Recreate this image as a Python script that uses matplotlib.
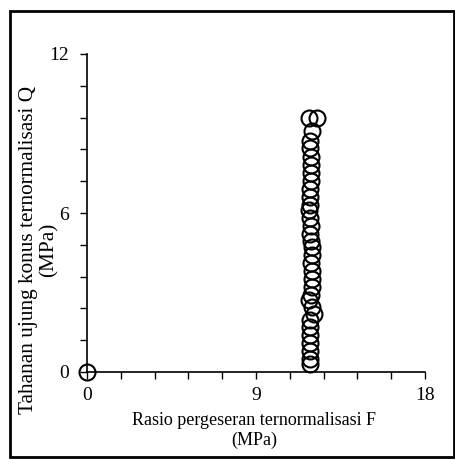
import matplotlib
matplotlib.use("Agg")
import matplotlib.pyplot as plt
from matplotlib.ticker import MultipleLocator, FixedLocator
from matplotlib.patches import Rectangle

plt.rcParams['font.family'] = ['Liberation Serif', 'DejaVu Serif']

F = [0.0, 11.8, 12.25, 12.0, 11.9, 11.85, 11.95, 11.95, 11.95, 11.95, 11.9, 11.9,
     11.85, 11.8, 11.9, 11.95, 11.85, 11.95, 12.0, 12.0, 11.95, 12.0, 12.0, 12.0,
     11.95, 11.8, 12.0, 12.1, 11.85, 11.9, 11.9, 11.85, 11.85, 11.85, 11.85]
Q = [0.0, 9.6, 9.6, 9.1, 8.7, 8.45, 8.1, 7.8, 7.5, 7.2, 6.9, 6.6,
     6.3, 6.1, 5.8, 5.5, 5.2, 4.95, 4.7, 4.4, 4.1, 3.8, 3.5, 3.2,
     2.9, 2.7, 2.45, 2.2, 1.95, 1.7, 1.4, 1.1, 0.8, 0.5, 0.3]

xticks = [0, 9, 18]
yticks = [0, 6, 12]
xlabel = "Rasio pergeseran ternormalisasi F\n(MPa)"
ylabel = "Tahanan ujung konus ternormalisasi Q\n(MPa)"

fig = plt.figure(figsize=(4.56, 4.59), dpi=100)
ax = fig.add_axes([87/456, 1-372/459, 338/456, 318/459])

ax.plot(F, Q, linestyle='none', marker='o', markersize=11.5, fillstyle='none',
        markeredgecolor='black', markeredgewidth=1.5, clip_on=False, zorder=3)

ax.set_xlim(0, 18)
ax.set_ylim(0, 12)
ax.xaxis.set_major_locator(FixedLocator(xticks))
ax.yaxis.set_major_locator(FixedLocator(yticks))
ax.xaxis.set_minor_locator(MultipleLocator(1.8))
ax.yaxis.set_minor_locator(MultipleLocator(1.2))
ax.tick_params(which='both', direction='out', length=5, width=1, color='black')
ax.tick_params(axis='x', labelsize=14, pad=6)
ax.tick_params(axis='y', labelsize=14, pad=8)
for s in ['top', 'right']:
    ax.spines[s].set_visible(False)
for s in ['left', 'bottom']:
    ax.spines[s].set_linewidth(1.2)

ax.set_xlabel(xlabel, fontsize=13, linespacing=1.2)
ax.xaxis.set_label_coords((254-87)/338, (372-412)/318)
ax.set_ylabel(ylabel, fontsize=15.3, linespacing=1.1)
ax.yaxis.set_label_coords((59-87)/338, (372-250)/318)

fig.patches.append(Rectangle((10/456, 1-457/459), 444/456, 446/459,
                             transform=fig.transFigure, fill=False,
                             edgecolor='black', linewidth=2))

fig.savefig('out.png', dpi=100)
